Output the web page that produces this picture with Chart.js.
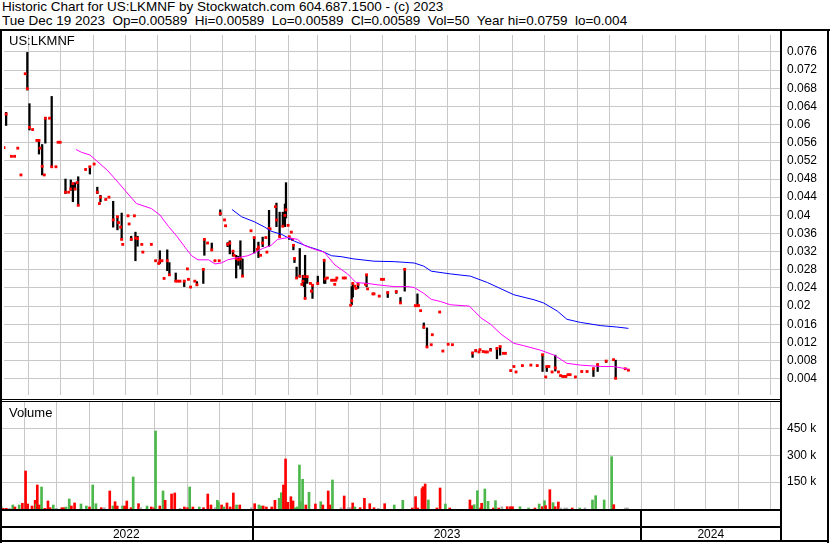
<!DOCTYPE html>
<html>
<head>
<meta charset="utf-8">
<title>US:LKMNF</title>
<script src="https://cdn.jsdelivr.net/npm/chart.js@4.4.0/dist/chart.umd.min.js"></script>
<style>
    body { margin: 0; background: #fff; width: 830px; height: 543px; overflow: hidden; position: relative; font-family: "Liberation Sans", Arial, sans-serif; color: #000; }
    .txt { position: absolute; white-space: pre; }
    .ln { position: absolute; background: #000; }
    canvas { position: absolute; left: 0; }
</style>
</head>
<body>
<div class="txt" style="left:2px;top:0px;font-size:13.5px;line-height:14px">Historic Chart for US:LKMNF by Stockwatch.com 604.687.1500 - (c) 2023
Tue Dec 19 2023  Op=0.00589  Hi=0.00589  Lo=0.00589  Cl=0.00589  Vol=50  Year hi=0.0759  lo=0.004</div>

<canvas id="priceChart" width="830" height="368" style="top:31px"></canvas>
<canvas id="volChart" width="830" height="107" style="top:402px"></canvas>

<div class="txt" style="left:9px;top:33px;font-size:13px;line-height:15px">US:LKMNF</div>
<div class="txt" style="left:9px;top:405px;font-size:13px;line-height:15px">Volume</div>

<div class="ln" style="left:0;top:29px;width:830px;height:2px"></div>
<div class="ln" style="left:0;top:29px;width:2px;height:514px"></div>
<div class="ln" style="left:780px;top:29px;width:2px;height:513px"></div>
<div class="ln" style="left:827px;top:29px;width:2px;height:514px"></div>
<div class="ln" style="left:0;top:399px;width:782px;height:1px"></div>
<div class="ln" style="left:0;top:401px;width:782px;height:1px"></div>
<div class="ln" style="left:0;top:509px;width:782px;height:2px"></div>
<div class="ln" style="left:0;top:526px;width:782px;height:2px"></div>
<div class="ln" style="left:0;top:540px;width:829px;height:2px"></div>
<div id="yearRow"></div>

<script>
// days are counted from 1 Jan 2022 (day 0)
const tradeDays = [128,130,135,138,141,144,148,150,152,155,
    159,161,162,164,166,167,171,173,177,179,
    181,186,189,191,193,195,197,198,205,209,
    213,216,218,219,224,227,231,235,236,238,
    239,240,245,246,248,251,252,254,258,259,
    267,271,274,275,277,279,282,284,290,292,
    294,298,301,302,304,308,310,316,317,320,
    324,327,331,332,336,337,339,341,344,345,
    347,349,351,353,361,364,367,368,370,372,
    375,376,378,379,384,385,388,391,393,394,
    396,397,399,400,401,402,404,407,409,410,
    411,412,414,417,418,419,424,430,431,433,
    437,439,440,441,442,448,450,455,456,457,
    459,460,462,469,470,471,476,477,482,484,
    486,490,498,502,506,516,518,519,521,524,
    527,531,532,539,542,547,551,570,573,576,
    577,580,582,584,587,593,596,599,601,606,
    609,611,617,625,631,636,639,640,642,645,
    648,651,653,655,657,658,660,662,667,673,
    678,684,688,696,703,705,714,717];

const highs = [.0549,.0627,.0530,.0530,.0548,.0489,.0712,.0759,.0646,.0589,
    .0565,.0565,.0548,.0556,.0489,.0616,.0614,.0662,.0507,.0561,
    .0561,.0480,.0451,.0478,.0470,.0472,.0472,.0485,.0501,.0508,
    .0513,.0462,.0426,.0444,.0435,.0440,.0431,.0397,.0384,.0374,
    .0405,.0336,.0399,.0381,.0354,.0399,.0363,.0354,.0336,.0319,
    .0336,.0300,.0294,.0322,.0300,.0261,.0324,.0296,.0273,.0255,
    .0255,.0257,.0282,.0259,.0242,.0255,.0254,.0282,.0348,.0339,
    .0339,.0300,.0300,.0412,.0390,.0377,.0340,.0344,.0322,.0312,
    .0312,.0310,.0344,.0304,.0366,.0351,.0325,.0341,.0312,.0352,
    .0351,.0319,.0411,.0370,.0419,.0427,.0407,.0407,.0425,.0472,
    .0378,.0353,.0363,.0347,.0336,.0305,.0286,.0327,.0248,.0268,
    .0265,.0312,.0265,.0250,.0233,.0246,.0266,.0301,.0262,.0262,
    .0257,.0257,.0248,.0257,.0262,.0262,.0262,.0202,.0243,.0250,
    .0244,.0239,.0250,.0248,.0269,.0238,.0227,.0227,.0222,.0259,
    .0259,.0231,.0234,.0219,.0282,.0201,.0227,.0201,.0190,.0163,
    .0152,.0115,.0137,.0187,.0101,.0116,.0115,.0098,.0104,.0099,
    .0104,.0100,.0099,.0099,.0107,.0107,.0111,.0096,.0096,.0058,
    .0067,.0055,.0069,.0070,.0069,.0093,.0044,.0067,.0067,.0055,
    .0092,.0055,.0047,.0045,.0045,.0045,.0049,.0049,.0044,.0056,
    .0056,.0064,.0073,.0080,.0082,.0081,.0062,.00589];

const lows = [.0549,.0598,.0530,.0530,.0548,.0489,.0712,.0676,.0588,.0589,
    .0565,.0535,.0548,.0489,.0489,.0559,.0614,.0507,.0507,.0561,
    .0561,.0448,.0451,.0455,.0430,.0456,.0472,.0422,.0501,.0491,
    .0513,.0448,.0426,.0430,.0435,.0440,.0374,.0368,.0384,.0374,
    .0347,.0336,.0399,.0381,.0345,.0399,.0300,.0332,.0336,.0319,
    .0336,.0300,.0294,.0294,.0300,.0261,.0278,.0268,.0255,.0255,
    .0255,.0243,.0282,.0259,.0242,.0255,.0245,.0250,.0312,.0339,
    .0322,.0300,.0300,.0400,.0390,.0377,.0331,.0315,.0310,.0312,
    .0262,.0290,.0282,.0266,.0366,.0317,.0325,.0307,.0312,.0331,
    .0351,.0319,.0332,.0370,.0419,.0375,.0353,.0376,.0375,.0394,
    .0378,.0347,.0363,.0347,.0324,.0296,.0261,.0264,.0248,.0246,
    .0243,.0217,.0250,.0250,.0233,.0217,.0248,.0250,.0250,.0262,
    .0257,.0257,.0248,.0257,.0262,.0262,.0262,.0202,.0203,.0220,
    .0244,.0239,.0239,.0248,.0243,.0238,.0227,.0227,.0222,.0259,
    .0259,.0219,.0228,.0207,.0233,.0201,.0201,.0201,.0190,.0151,
    .0110,.0115,.0137,.0187,.0101,.0116,.0115,.0087,.0099,.0099,
    .0104,.0100,.0099,.0099,.0103,.0084,.0092,.0096,.0096,.0058,
    .0067,.0055,.0069,.0070,.0069,.0056,.0044,.0056,.0067,.0055,
    .0057,.0055,.0047,.0045,.0045,.0045,.0049,.0049,.0044,.0056,
    .0056,.0045,.0056,.0076,.0082,.0040,.0062,.00589];

const closes = [.0549,.0623,.0530,.0530,.0548,.0489,.0712,.0679,.0594,.0589,
    .0565,.0565,.0548,.0508,.0489,.0614,.0614,.0507,.0507,.0561,
    .0561,.0451,.0451,.0458,.0470,.0458,.0472,.0422,.0501,.0507,
    .0513,.0451,.0426,.0440,.0435,.0440,.0390,.0397,.0384,.0374,
    .0347,.0336,.0399,.0381,.0347,.0399,.0350,.0349,.0336,.0319,
    .0336,.0300,.0294,.0300,.0300,.0261,.0300,.0269,.0255,.0255,
    .0255,.0255,.0282,.0259,.0242,.0255,.0247,.0281,.0347,.0339,
    .0324,.0300,.0300,.0404,.0390,.0377,.0336,.0339,.0321,.0312,
    .0305,.0302,.0304,.0266,.0366,.0351,.0325,.0330,.0312,.0339,
    .0351,.0319,.0371,.0370,.0419,.0390,.0353,.0376,.0400,.0412,
    .0378,.0353,.0363,.0347,.0334,.0305,.0262,.0266,.0248,.0255,
    .0265,.0217,.0265,.0250,.0233,.0246,.0250,.0301,.0260,.0262,
    .0257,.0257,.0248,.0257,.0262,.0262,.0262,.0202,.0212,.0250,
    .0244,.0239,.0248,.0248,.0269,.0238,.0227,.0227,.0222,.0259,
    .0259,.0230,.0232,.0207,.0281,.0201,.0201,.0201,.0190,.0154,
    .0110,.0115,.0137,.0187,.0101,.0116,.0115,.0097,.0102,.0099,
    .0104,.0100,.0099,.0099,.0103,.0107,.0111,.0096,.0096,.0058,
    .0067,.0055,.0069,.0070,.0069,.0093,.0044,.0067,.0067,.0055,
    .0064,.0055,.0047,.0045,.0045,.0045,.0049,.0049,.0044,.0056,
    .0056,.0062,.0071,.0079,.0082,.0041,.0062,.00589];

// moving averages
const maShortDays = [196,201,209,215,226,237,245,253,267,275,283,291,299,305,311,321,327,333,339,349,
    358,364,372,380,386,396,405,411,421,430,440,452,460,471,480,496,509,515,524,531,
    540,549,567,578,587,597,609,618,634,647,659,672,691,703,717];
const maShort = [.0545,.0539,.0533,.0521,.0498,.0469,.0447,.0426,.0415,.0401,.0376,.0354,.0329,.0311,.0302,.0302,.0293,.0295,.0302,.0307,
    .0311,.0317,.0327,.0334,.0347,.0351,.0347,.0334,.0325,.0319,.0291,.0271,.0252,.0250,.0247,.0243,.0243,.0241,.0228,.0215,
    .0210,.0203,.0200,.0174,.0160,.0138,.0118,.0113,.0103,.0092,.0074,.0070,.0067,.0067,.0061];

const maLongDays = [343,352,364,374,380,390,402,415,427,437,446,458,477,496,515,524,531,549,568,584,
    596,609,628,637,650,659,672,691,706,717];
const maLong = [.0413,.0397,.0386,.0374,.0365,.0358,.0343,.0331,.0322,.0311,.0309,.0304,.0299,.0298,.0295,.0288,.0277,.0271,.0266,.0252,
    .0239,.0225,.0214,.0207,.0189,.0171,.0164,.0157,.0154,.0151];

const volDays = [129,131,134,137,140,142,146,149,152,154,158,161,162,163,165,167,170,173,175,178,
    181,186,188,190,193,195,198,204,209,212,215,218,223,226,231,234,236,238,243,245,
    247,251,253,258,260,266,270,273,274,278,281,283,289,292,297,301,304,306,309,315,
    319,323,326,330,332,333,336,338,341,344,347,350,353,364,367,371,373,375,378,383,
    386,390,392,394,396,398,401,403,405,407,409,410,412,415,418,424,429,431,436,438,
    440,448,451,455,457,459,461,466,470,475,479,483,489,498,506,515,518,520,524,525,
    527,530,538,541,546,550,569,571,573,576,579,580,583,586,591,593,596,599,604,607,
    609,616,624,630,634,637,639,640,644,647,649,652,654,658,660,665,672,677,684,687,
    695,702,704,715,717];
const volumes = [16700,3900,3900,3900,22300,11200,22300,31800,211900,27900,16700,48500,27900,133800,22300,122700,3900,44600,7200,22300,
    3900,7200,7200,11200,55800,16700,33500,27900,16700,11200,133800,29600,7200,7200,100400,16700,40700,16700,16700,16700,
    44600,7200,178400,29600,7200,16700,11200,7200,434900,16700,100400,48500,83600,89200,3900,11200,7200,122700,11200,11200,
    7200,83600,22300,7200,48500,37400,22300,11200,33500,11200,89200,22300,22300,7200,29600,22300,16700,16700,11200,11200,
    48500,59700,90900,133800,278800,37400,68600,44600,7200,11200,245300,40700,165600,22300,93100,27900,40700,22300,100400,22300,
    161700,7200,72500,7200,7200,33500,11200,7200,59700,29600,7200,3900,29600,22300,48500,5600,68600,5600,113200,124300,
    139400,50200,5600,117100,27900,5600,50200,18400,24000,102000,5600,31800,111500,42900,5600,46300,5600,12800,12800,12800,
    12800,12800,5600,5600,27900,12800,46300,18400,107600,35100,12800,39000,5600,5600,5600,5600,5600,5600,50200,74200,
    50200,291600,24000,5600,5600];
// 1 = up day, -1 = down day, 0 = unchanged
const volMove = [1,-1,-1,0,1,-1,1,-1,-1,-1,-1,-1,1,-1,-1,1,-1,-1,-1,1,
    0,-1,-1,1,1,-1,-1,1,1,-1,1,1,-1,0,-1,1,-1,-1,1,-1,
    -1,-1,1,-1,0,1,-1,-1,1,-1,1,-1,-1,-1,0,-1,-1,1,-1,1,
    -1,-1,-1,0,1,1,-1,1,-1,-1,-1,1,-1,0,-1,1,1,-1,-1,-1,
    -1,1,1,-1,-1,-1,-1,-1,1,1,1,1,1,-1,1,-1,1,-1,-1,-1,
    1,0,-1,0,0,-1,1,-1,-1,-1,-1,0,-1,1,1,-1,-1,-1,-1,-1,
    -1,1,-1,-1,1,-1,-1,-1,1,1,-1,-1,1,1,-1,1,-1,0,-1,-1,
    -1,1,1,-1,1,-1,1,-1,-1,1,-1,-1,0,0,0,-1,1,0,1,1,
    1,1,-1,0,0];

const priceTicks = [.004,.008,.012,.016,.02,.024,.028,.032,.036,.04,.044,.048,.052,.056,.06,.064,.068,.072,.076];
const priceTickLabels = ['0.004','0.008','0.012','0.016','0.02','0.024','0.028','0.032','0.036','0.04','0.044','0.048','0.052','0.056','0.06','0.064','0.068','0.072','0.076'];
const volTicks = [150000, 300000, 450000];
const volTickLabels = ['150 k', '300 k', '450 k'];
const yearLabels = ['2022', '2023', '2024'];
const yearStarts = [0, 365, 730];

const X_MIN = 128, X_MAX = 860;
const FONT = '"Liberation Sans", Arial, sans-serif';
const GRID = '#c8c8c8';
const DAY_MS = 86400000;
const EPOCH = Date.UTC(2022, 0, 1);

function monthStarts() {
    const out = [];
    for (let y = 2022; y <= 2024; y++) {
        for (let m = 0; m < 12; m++) {
            const d = (Date.UTC(y, m, 1) - EPOCH) / DAY_MS;
            if (d > X_MIN && d < X_MAX) out.push(d);
        }
    }
    return out;
}

function noPad(s) {
    s.paddingTop = 0; s.paddingBottom = 0; s.paddingLeft = 0; s.paddingRight = 0;
}

function xAxis() {
    return {
        type: 'linear', min: X_MIN, max: X_MAX, offset: false,
        grid: { color: GRID, lineWidth: 1, drawTicks: false, offset: false },
        border: { display: false },
        ticks: { display: false },
        afterBuildTicks: s => { s.ticks = monthStarts().map(v => ({ value: v })); },
        afterFit: s => { s.height = 0; noPad(s); }
    };
}

function yAxis(min, max, ticks, labels) {
    return {
        position: 'right', min: min, max: max,
        grid: { color: GRID, lineWidth: 1, drawTicks: false },
        border: { display: false },
        ticks: {
            color: '#000', padding: 7, font: { family: FONT, size: 12 },
            callback: (v, i) => labels[i]
        },
        afterBuildTicks: s => { s.ticks = ticks.map(v => ({ value: v })); },
        afterFit: s => { s.width = 50; noPad(s); }
    };
}

const baseOpts = {
    responsive: false,
    animation: false,
    devicePixelRatio: 1,
    layout: { padding: 0 },
    plugins: { legend: { display: false }, tooltip: { enabled: false } },
    events: []
};

const priceChart = new Chart(document.getElementById('priceChart'), {
    type: 'bar',
    data: {
        datasets: [
            { type: 'line', data: maShortDays.map((d, i) => ({ x: d, y: maShort[i] })), borderColor: '#ff00ff', borderWidth: 1, pointRadius: 0, tension: 0 },
            { type: 'line', data: maLongDays.map((d, i) => ({ x: d, y: maLong[i] })), borderColor: '#0000ff', borderWidth: 1, pointRadius: 0, tension: 0 },
            { type: 'line', data: tradeDays.map((d, i) => ({ x: d, y: closes[i] })), showLine: false, pointStyle: 'rect', pointRadius: 2, pointBackgroundColor: '#ff0000', pointBorderWidth: 0 },
            { type: 'bar', data: tradeDays.map((d, i) => ({ x: d, y: [lows[i], highs[i]] })), backgroundColor: '#000', barThickness: 1.6, grouped: false }
        ]
    },
    options: Object.assign({}, baseOpts, {
        scales: { x: xAxis(), y: yAxis(0.00042, 0.07973, priceTicks, priceTickLabels) }
    })
});

const volColors = volMove.map(m => m > 0 ? '#4cb84c' : (m < 0 ? '#ff0000' : '#aaaaaa'));

const volChart = new Chart(document.getElementById('volChart'), {
    type: 'bar',
    data: {
        datasets: [
            { data: volDays.map((d, i) => ({ x: d, y: volumes[i] })), backgroundColor: volColors, barThickness: 2, grouped: false }
        ]
    },
    options: Object.assign({}, baseOpts, {
        scales: { x: xAxis(), y: yAxis(0, 596600, volTicks, volTickLabels) }
    })
});

// year row under the volume panel, placed with the chart's own x scale
const xs = volChart.scales.x;
const row = document.getElementById('yearRow');
yearLabels.forEach((lab, i) => {
    const from = Math.max(yearStarts[i], X_MIN);
    const to = Math.min(i + 1 < yearStarts.length ? yearStarts[i + 1] : X_MAX, X_MAX);
    const left = xs.getPixelForValue(from);
    const right = xs.getPixelForValue(to);
    const t = document.createElement('div');
    t.className = 'txt';
    t.style.cssText = `left:${left}px;width:${right - left}px;top:527px;font-size:12px;line-height:14px;text-align:center`;
    t.textContent = lab;
    row.appendChild(t);
    if (yearStarts[i] > X_MIN) {
        const l = document.createElement('div');
        l.className = 'ln';
        l.style.cssText = `left:${Math.round(left) - 1}px;top:509px;width:2px;height:32px`;
        row.appendChild(l);
    }
});
</script>
</body>
</html>
